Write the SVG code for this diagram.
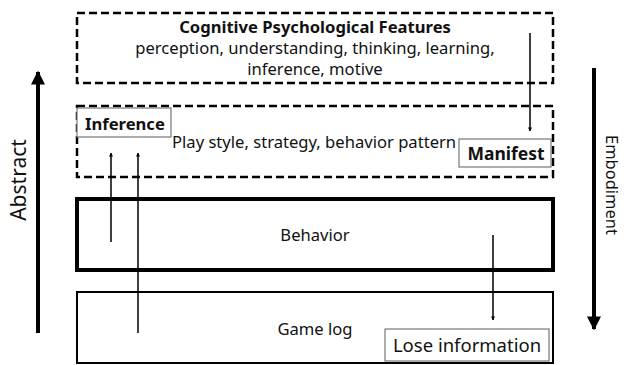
<svg xmlns="http://www.w3.org/2000/svg" width="624" height="365" viewBox="0 0 624 365">
  <defs>
    <marker id="tip" viewBox="0 0 10 10" refX="9" refY="5" markerWidth="4" markerHeight="5" orient="auto-start-reverse" markerUnits="userSpaceOnUse">
      <path d="M0,0 L10,5 L0,10 z" fill="#000"/>
    </marker>
    <marker id="bigtip" viewBox="0 0 10 10" refX="9" refY="5" markerWidth="14" markerHeight="14" orient="auto" markerUnits="userSpaceOnUse">
      <path d="M0,0 L10,5 L0,10 z" fill="#000"/>
    </marker>
  </defs>
  <style>
    text { font-family: "Noto Sans", "Open Sans", sans-serif; fill: #111; }
    .t { font-size: 16.6px; }
    .b { font-weight: bold; }
    .dash { fill: #fff; stroke: #000; stroke-width: 2.5; stroke-dasharray: 8 4; }
    .tag { fill: #fff; stroke: #777; stroke-width: 1.2; }
    .link { stroke: #000; stroke-width: 1.5; fill: none; }
    .axis { stroke: #000; stroke-width: 4; fill: none; }
  </style>
  <rect width="624" height="365" fill="#fff"/>

  <g id="cognitive">
    <rect class="dash" x="77" y="13" width="476" height="70"/>
    <text class="t b" x="315" y="33" text-anchor="middle">Cognitive Psychological Features</text>
    <text class="t" x="315" y="54" text-anchor="middle">perception, understanding, thinking, learning,</text>
    <text class="t" x="315" y="75" text-anchor="middle">inference, motive</text>
  </g>

  <g id="playstyle">
    <rect class="dash" x="77" y="106" width="476" height="71"/>
    <text class="t" x="172" y="148">Play style, strategy, behavior pattern</text>
  </g>

  <g id="behavior">
    <rect x="77" y="199" width="476" height="71" fill="#fff" stroke="#000" stroke-width="4"/>
    <text class="t" x="315" y="241" text-anchor="middle">Behavior</text>
  </g>

  <g id="gamelog">
    <rect x="77" y="292" width="476" height="71" fill="#fff" stroke="#000" stroke-width="2"/>
    <text class="t" x="315" y="335" text-anchor="middle">Game log</text>
  </g>

  <g id="connectors">
    <line class="link" x1="111" y1="242" x2="111" y2="153" marker-end="url(#tip)"/>
    <line class="link" x1="138" y1="333" x2="138" y2="153" marker-end="url(#tip)"/>
    <line class="link" x1="530" y1="33" x2="530" y2="131" marker-end="url(#tip)"/>
    <line class="link" x1="493" y1="235" x2="493" y2="320" marker-end="url(#tip)"/>
  </g>

  <g id="inference">
    <rect class="tag" x="77" y="108" width="94" height="29"/>
    <text class="t b" x="85" y="130" font-size="16">Inference</text>
  </g>

  <g id="manifest">
    <rect class="tag" x="459" y="139" width="92" height="28" stroke="#444"/>
    <text class="t b" x="506" y="160" text-anchor="middle" style="font-size:17.5px">Manifest</text>
  </g>

  <g id="lose">
    <rect class="tag" x="385" y="329" width="164" height="32"/>
    <text x="467" y="352" text-anchor="middle" font-size="18.5">Lose information</text>
  </g>

  <g id="abstract">
    <line class="axis" x1="38" y1="333" x2="38" y2="72" marker-end="url(#bigtip)"/>
    <text x="26" y="180" font-size="21" text-anchor="middle" transform="rotate(-90 26 180)">Abstract</text>
  </g>

  <g id="embodiment">
    <line class="axis" x1="594" y1="68" x2="594" y2="329" marker-end="url(#bigtip)"/>
    <text x="606" y="185" font-size="16.5" text-anchor="middle" transform="rotate(90 606 185)">Embodiment</text>
  </g>
</svg>
